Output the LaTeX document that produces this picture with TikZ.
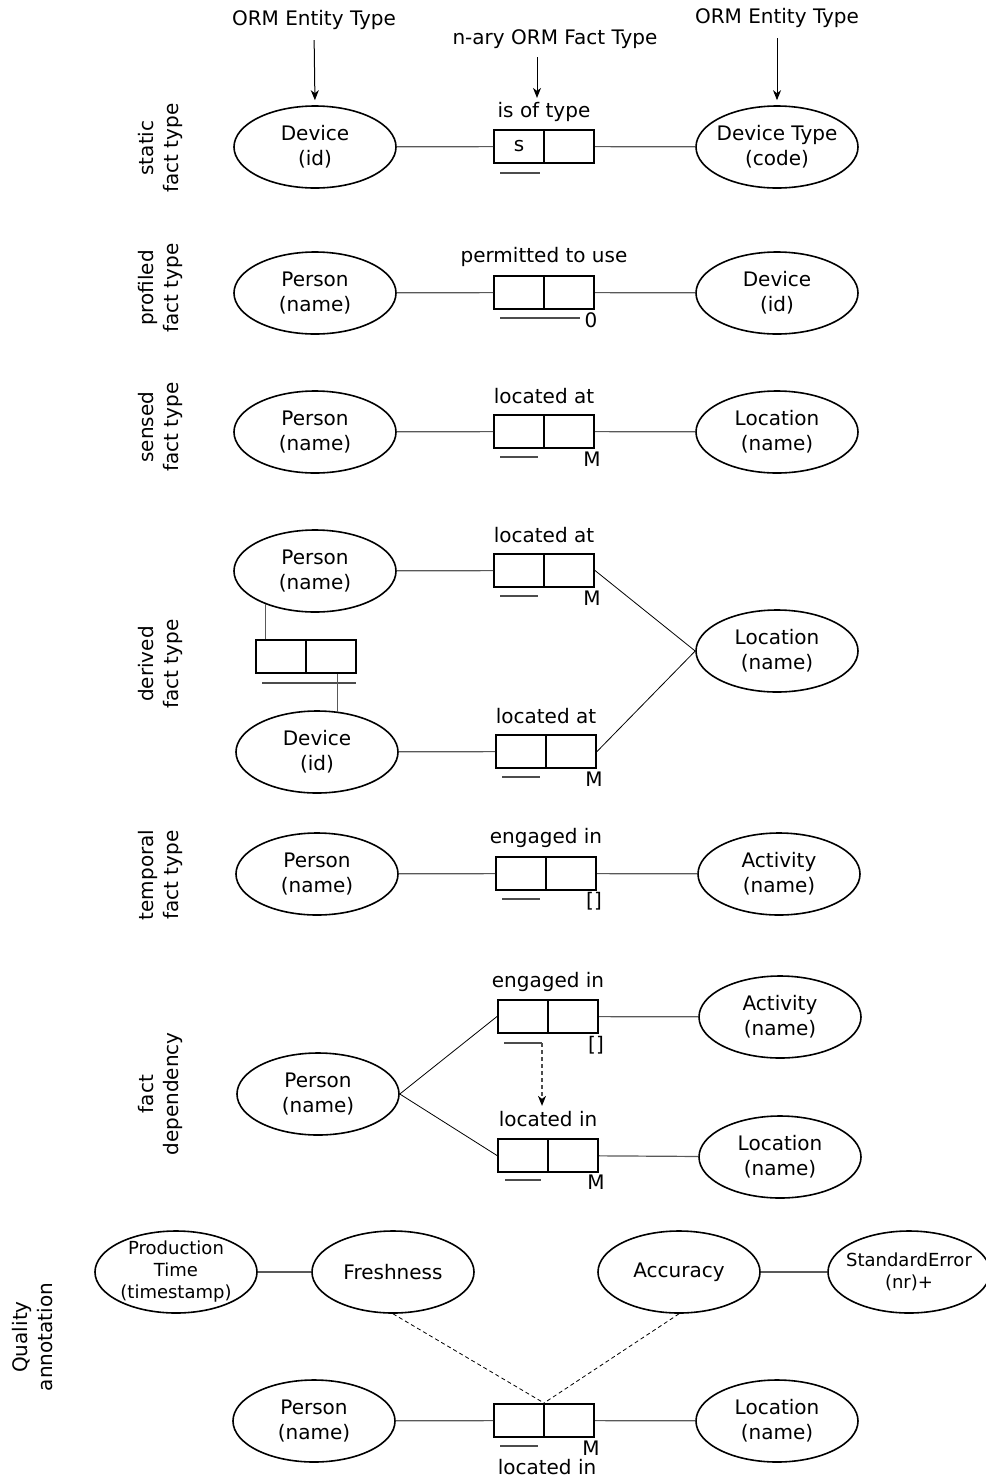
\documentclass[tikz,border=0pt]{standalone}
\usepackage{fontspec}
\setmainfont{DejaVu Sans}
\usetikzlibrary{shapes.geometric,arrows.meta,calc}
\begin{document}
\begin{tikzpicture}[x=0.5pt,y=-0.5pt,
  every node/.style={font=\fontsize{10}{12.5}\selectfont},
  ent/.style={ellipse,draw,line width=0.8pt,minimum width=81pt,minimum height=41pt,inner xsep=-8pt,inner ysep=-2pt,align=center},
  small/.style={font=\fontsize{9}{11}\selectfont},
  fbox/.style={draw,line width=1pt,minimum width=50pt,minimum height=16.5pt,inner sep=0pt},
  conn/.style={draw=black!65,line width=0.6pt},
  tconn/.style={draw=black,line width=0.4pt},
  uline/.style={draw=black!70,line width=0.6pt},
  lbl/.style={inner sep=0pt},
  rowlbl/.style={rotate=90,align=center,inner sep=0pt},
  qline/.style={draw=black,line width=0.4pt,dash pattern=on 2pt off 1.5pt},
  darr/.style={draw=black!70,line width=0.6pt,dash pattern=on 2pt off 1.5pt,-{Stealth[length=5pt,width=4pt,inset=1.5pt,black]}},
  arr/.style={-{Stealth[length=5pt,width=4pt,inset=1.5pt]},line width=0.5pt}
]
\useasboundingbox (0,0) rectangle (986,1479);
\newcommand\fdiv[1]{\draw[line width=1pt] (#1.north) -- (#1.south);}

% ---------- header labels
\node[lbl] (t1) at (314,20) {ORM Entity Type};
\node[lbl] (t2) at (555,39) {n-ary ORM Fact Type};
\node[lbl] (t3) at (777,18) {ORM Entity Type};

% ---------- row 1: static
\node[rowlbl] (r1) at (160,148) {static\\fact type};
\node[ent] (e1a) at (315,147) {Device\\(id)};
\node[ent] (e1b) at (777,147) {Device Type\\(code)};
\node[fbox] (f1) at (544,146.5) {};
\fdiv{f1}
\node[lbl] (l1) at (544,112) {is of type};
\node[lbl] (s1) at (519,146) {s};
\draw[uline] (500,173) -- (540,173);
\draw[conn] (e1a) -- (f1);
\draw[conn] (f1) -- (e1b);
\draw[arr,shorten <=5pt,shorten >=2.5pt] (t1.south) -- (e1a.north);
\draw[arr,shorten <=5pt,shorten >=2.5pt] (t3.south) -- (e1b.north);
\coordinate (na) at (537,57);
\draw[arr,shorten >=2pt] (na) -- (na |- l1.north);

% ---------- row 2: profiled
\node[rowlbl] (r2) at (160,288) {profiled\\fact type};
\node[ent] (e2a) at (315,293) {Person\\(name)};
\node[ent] (e2b) at (777,293) {Device\\(id)};
\node[fbox] (f2) at (544,292.5) {};
\fdiv{f2}
\node[lbl] (l2) at (544,257) {permitted to use};
\draw[uline] (500,318) -- (580,318);
\node[lbl] (m2) at (591,320) {0};
\draw[conn] (e2a) -- (f2);
\draw[conn] (f2) -- (e2b);

% ---------- row 3: sensed
\node[rowlbl] (r3) at (160,427) {sensed\\fact type};
\node[ent] (e3a) at (315,432) {Person\\(name)};
\node[ent] (e3b) at (777,432) {Location\\(name)};
\node[fbox] (f3) at (544,431.5) {};
\fdiv{f3}
\node[lbl] (l3) at (544,396) {located at};
\draw[uline] (500,457) -- (538,457);
\node[lbl] (m3) at (592,459) {M};
\draw[conn] (e3a) -- (f3);
\draw[conn] (f3) -- (e3b);

% ---------- row 4: derived
\node[rowlbl] (r4) at (160,664) {derived\\fact type};
\node[ent] (e4a) at (315,571) {Person\\(name)};
\node[ent] (e4b) at (317,752) {Device\\(id)};
\node[ent] (e4c) at (777,651) {Location\\(name)};
\node[fbox] (f4a) at (544,570.5) {};
\fdiv{f4a}
\node[lbl] (l4a) at (544,535) {located at};
\draw[uline] (500,596) -- (538,596);
\node[lbl] (m4a) at (592,598) {M};
\node[fbox] (f4b) at (546,751.5) {};
\fdiv{f4b}
\node[lbl] (l4b) at (546,716) {located at};
\draw[uline] (502,777) -- (540,777);
\node[lbl] (m4b) at (594,779) {M};
\node[fbox] (sb) at (306,656.5) {};
\fdiv{sb}
\draw[uline] (262,683) -- (356,683);
\draw[conn] (e4a) -- (f4a);
\draw[conn] (e4b) -- (f4b);
\draw[tconn] (f4a.east) -- (e4c.west);
\draw[tconn] (f4b.east) -- (e4c.west);
\draw[conn] (e4a.214) -- (e4a.214 |- sb.north);
\draw[conn] (e4b.63) -- (e4b.63 |- sb.south);

% ---------- row 5: temporal
\node[rowlbl] (r5) at (160,875) {temporal\\fact type};
\node[ent] (e5a) at (317,874) {Person\\(name)};
\node[ent] (e5b) at (779,874) {Activity\\(name)};
\node[fbox] (f5) at (546,873.5) {};
\fdiv{f5}
\node[lbl] (l5) at (546,838) {engaged in};
\draw[uline] (502,899) -- (540,899);
\node[lbl] (m5) at (594,901) {[]};
\draw[conn] (e5a) -- (f5);
\draw[conn] (f5) -- (e5b);

% ---------- row 6: fact dependency
\node[rowlbl] (r6) at (160,1094) {fact\\dependency};
\node[ent] (e6a) at (318,1094) {Person\\(name)};
\node[ent] (e6b) at (780,1017) {Activity\\(name)};
\node[ent] (e6c) at (780,1157) {Location\\(name)};
\node[fbox] (f6a) at (548,1016.5) {};
\fdiv{f6a}
\node[lbl] (l6a) at (548,982) {engaged in};
\node[lbl] (m6a) at (596,1045) {[]};
\node[fbox] (f6b) at (548,1155.5) {};
\fdiv{f6b}
\node[lbl] (l6b) at (548,1119) {located in};
\draw[uline] (505,1180) -- (541,1180);
\node[lbl] (m6b) at (596,1182) {M};
\draw[tconn] (e6a.east) -- (f6a.west);
\draw[tconn] (e6a.east) -- (f6b.west);
\draw[conn] (f6a) -- (e6b);
\draw[conn] (f6b) -- (e6c);
\coordinate (u6a) at (504,1043);
\coordinate (u6b) at (542,1043);
\draw[uline] (u6a) -- (u6b);
\draw[darr,shorten >=2.5pt] (u6b) -- (u6b |- l6b.north);

% ---------- row 7: quality annotation
\node[rowlbl] (r7) at (33,1337) {Quality\\annotation};
\node[ent,small] (q1) at (176,1272) {Production\\Time\\(timestamp)};
\node[ent] (q2) at (393,1272) {Freshness};
\node[ent] (q3) at (679,1272) {Accuracy};
\node[ent,small] (q4) at (909,1272) {StandardError\\(nr)+};
\node[ent] (e7a) at (314,1421) {Person\\(name)};
\node[ent] (e7b) at (777,1421) {Location\\(name)};
\node[fbox] (f7) at (544,1420.5) {};
\fdiv{f7}
\draw[uline] (500,1446) -- (538,1446);
\node[lbl] (m7) at (591,1448) {M};
\node[lbl] (l7) at (547,1467) {located in};
\draw[conn] (q1) -- (q2);
\draw[conn] (q3) -- (q4);
\draw[conn] (e7a) -- (f7);
\draw[conn] (f7) -- (e7b);
\draw[qline] (q2.south) -- (f7.north);
\draw[qline] (q3.south) -- (f7.north);
\end{tikzpicture}
\end{document}
